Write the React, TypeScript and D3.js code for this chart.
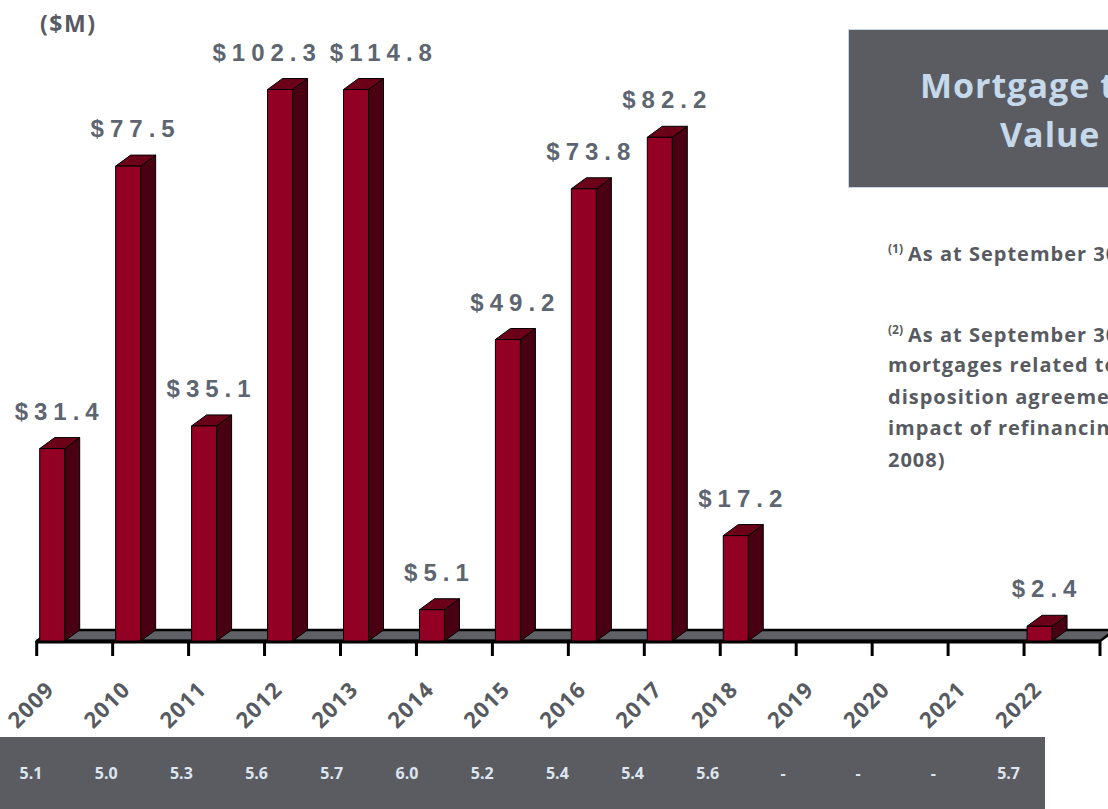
import React from 'react';
import * as d3 from 'd3';

// maturity schedule ($M) — 2012/2013 run past the top of the axis
const years = ['2009', '2010', '2011', '2012', '2013', '2014', '2015', '2016', '2017', '2018', '2019', '2020', '2021', '2022'];
const maturities: (number | null)[] = [31.4, 77.5, 35.1, 102.3, 114.8, 5.1, 49.2, 73.8, 82.2, 17.2, null, null, null, 2.4];
const rates = ['5.1', '5.0', '5.3', '5.6', '5.7', '6.0', '5.2', '5.4', '5.4', '5.6', '-', '-', '-', '5.7'];
const yMax = 90;

const titleLines = ['Mortgage to', 'Value'];
const note1 = 'As at September 30, 2008';
const note2Lines = [
  'As at September 30, 2008 excluding',
  'mortgages related to properties',
  'disposition agreements and the',
  'impact of refinancing (October',
  '2008)',
];

const W = 1108;
const H = 809;
const BASE = 641;
const DX = 15;
const DY = 11;
const BAR_W = 25;

const FRONT = '#920023';
const TOP = '#6b0019';
const SIDE = '#4a0013';
const SLATE = '#5b5c62';
const LABEL = '#5d6570';
const TEXT_GRAY = '#575b61';
const PALE = '#c6d9ea';

const geo = '"Open Sans", "DejaVu Sans", sans-serif';
const arial = '"Liberation Sans", Arial, sans-serif';
const LABEL_SIZE = 24;
const LABEL_SPACING = 6;

// rough text width, used only to keep neighbouring value labels apart
function measure(s: string) {
  const ctx = document.createElement('canvas').getContext('2d');
  if (!ctx) return s.length * LABEL_SIZE * 0.56 + (s.length - 1) * LABEL_SPACING;
  ctx.font = `bold ${LABEL_SIZE}px "Liberation Sans", Arial, sans-serif`;
  return ctx.measureText(s).width + (s.length - 1) * LABEL_SPACING;
}

export default function App() {
  const x = d3.scaleBand<string>().domain(years).range([36.7, 1100]).paddingInner(0).paddingOuter(0);
  const y = d3.scaleLinear().domain([0, yMax]).range([BASE, 89.5]).clamp(true);
  const rateX = d3.scalePoint<string>().domain(years).range([31, 1008.6]);

  const left = x.range()[0];
  const right = x.range()[1];
  const tickXs = [...years.map(yr => x(yr) as number), right];

  const floor = `M${left},${BASE} L${left + DX},${BASE - DY} L${right + DX},${BASE - DY} L${right},${BASE} Z`;

  // value labels, nudged apart when two sit at the same height and collide
  const labels = years
    .map((yr, i) => ({ yr, v: maturities[i] }))
    .filter(d => d.v != null)
    .map(d => {
      const text = `$${(d.v as number).toFixed(1)}`;
      return {
        key: d.yr,
        text,
        cx: (x(d.yr) as number) + 3 + BAR_W / 2 + DX / 2,
        y: y(d.v as number) - DY - 18,
        w: measure(text),
      };
    });
  for (let i = 1; i < labels.length; i++) {
    const a = labels[i - 1];
    const b = labels[i];
    if (Math.abs(a.y - b.y) > 26) continue;
    const overlap = a.cx + a.w / 2 + 14 - (b.cx - b.w / 2);
    if (overlap > 0) {
      a.cx -= overlap / 2;
      b.cx += overlap / 2;
    }
  }

  return (
    <svg width={W} height={H} style={{ position: 'absolute', left: 0, top: 0, overflow: 'hidden' }}>
      {/* ($M) unit */}
      <text x={40} y={32} fontFamily={geo} fontWeight={700} fontSize={23} letterSpacing={1.5} fill={TEXT_GRAY}>($M)</text>

      {/* floor */}
      <path d={floor} fill="#606167" stroke="#000" strokeWidth={2.5} strokeLinejoin="round" />
      <line x1={left} x2={right} y1={BASE + 0.5} y2={BASE + 0.5} stroke="#000" strokeWidth={4} />
      {tickXs.map((tx, i) => (
        <line key={i} x1={tx} x2={tx} y1={BASE} y2={BASE + 15} stroke="#000" strokeWidth={3} />
      ))}

      {/* bars */}
      {years.map((yr, i) => {
        const v = maturities[i];
        if (v == null) return null;
        const x0 = (x(yr) as number) + 3;
        const top = y(v);
        const x1 = x0 + BAR_W;
        return (
          <g key={yr} stroke="#000" strokeWidth={1} strokeLinejoin="round">
            <path d={`M${x1},${top} L${x1 + DX},${top - DY} L${x1 + DX},${BASE - DY} L${x1},${BASE} Z`} fill={SIDE} />
            <path d={`M${x0},${top} L${x0 + DX},${top - DY} L${x1 + DX},${top - DY} L${x1},${top} Z`} fill={TOP} />
            <rect x={x0} y={top} width={BAR_W} height={BASE - top} fill={FRONT} />
          </g>
        );
      })}

      {/* value labels */}
      {labels.map(l => (
        <text key={l.key} x={l.cx} y={l.y} textAnchor="middle" fontFamily={arial} fontWeight={700}
          fontSize={LABEL_SIZE} letterSpacing={LABEL_SPACING} fill={LABEL}>
          {l.text}
        </text>
      ))}

      {/* year labels */}
      {years.map(yr => (
        <text key={yr} transform={`translate(${(x(yr) as number) + 19},691) rotate(-45)`} textAnchor="end"
          fontFamily={geo} fontWeight={700} fontSize={22} letterSpacing={1} fill={TEXT_GRAY}>
          {yr}
        </text>
      ))}

      {/* rate table */}
      <rect x={0} y={737} width={1045} height={H - 737} fill={SLATE} />
      {years.map((yr, i) => (
        <text key={yr} x={rateX(yr)} y={779} textAnchor="middle" fontFamily={geo} fontWeight={700}
          fontSize={16} fill="#dde6f0">
          {rates[i]}
        </text>
      ))}

      {/* title box */}
      <rect x={848.5} y={29.5} width={300} height={158} fill={SLATE} stroke="#c8d6e4" strokeWidth={1} />
      <text x={920} y={98} fontFamily={geo} fontWeight={700} fontSize={34} letterSpacing={1} fill={PALE}>{titleLines[0]}</text>
      <text x={1000} y={147} fontFamily={geo} fontWeight={700} fontSize={34} letterSpacing={1} fill={PALE}>{titleLines[1]}</text>

      {/* footnotes */}
      <g fontFamily={geo} fontWeight={700} fill={TEXT_GRAY}>
        <text x={888} y={261} fontSize={20} letterSpacing={1}>
          <tspan fontSize={12} letterSpacing={0} dy={-8}>(1)</tspan>
          <tspan dx={5} dy={8}>{note1}</tspan>
        </text>
        <text x={888} y={341.5} fontSize={20} letterSpacing={1}>
          <tspan fontSize={12} letterSpacing={0} dy={-8}>(2)</tspan>
          <tspan dx={5} dy={8}>{note2Lines[0]}</tspan>
        </text>
        {note2Lines.slice(1).map((ln, i) => (
          <text key={i} x={888} y={372 + i * 31.5} fontSize={20} letterSpacing={1}>{ln}</text>
        ))}
      </g>
    </svg>
  );
}
